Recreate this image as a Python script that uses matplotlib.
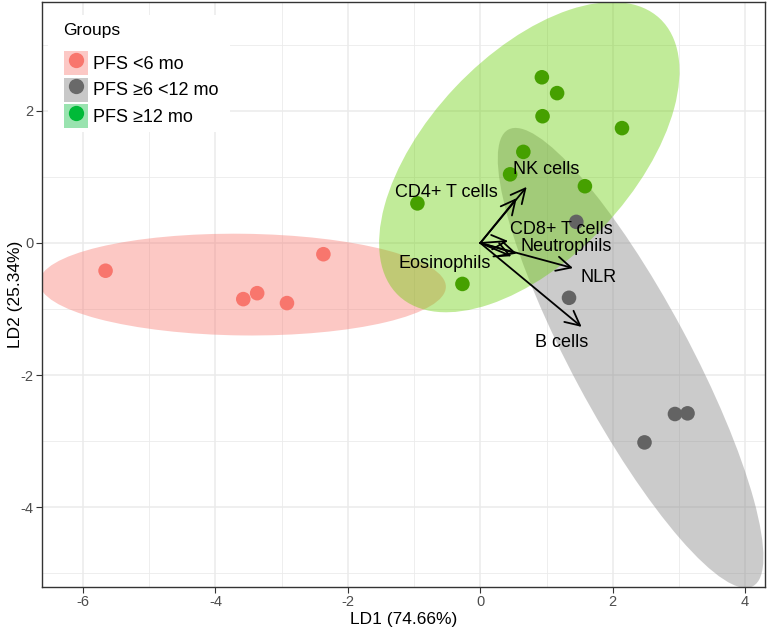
import matplotlib
matplotlib.use("Agg")
import matplotlib.pyplot as plt
from matplotlib.patches import Ellipse, Patch, Rectangle
from matplotlib.lines import Line2D
from matplotlib.legend_handler import HandlerTuple

plt.rcParams["font.family"] = ["Liberation Sans", "DejaVu Sans"]
plt.rcParams["axes.unicode_minus"] = False

# LDA scores per group (LD1, LD2)
groups = ["PFS <6 mo", "PFS \u22656 <12 mo", "PFS \u226512 mo"]
ld1_short = [-5.66, -3.58, -3.37, -2.92, -2.37]
ld2_short = [-0.42, -0.85, -0.76, -0.91, -0.17]
ld1_mid = [1.45, 1.34, 2.94, 3.13, 2.48]
ld2_mid = [0.32, -0.83, -2.59, -2.58, -3.02]
ld1_long = [0.93, 1.16, 0.94, 2.14, 0.65, 0.45, 1.58, -0.95, -0.27]
ld2_long = [2.51, 2.27, 1.92, 1.74, 1.38, 1.04, 0.86, 0.60, -0.62]

# confidence ellipses: centre x, centre y, semi-major, semi-minor, angle (deg)
ell_cx = [-3.59, 2.27, 0.74]
ell_cy = [-0.63, -1.74, 1.30]
ell_a = [3.07, 3.92, 2.88]
ell_b = [0.77, 0.89, 1.54]
ell_angle = [-0.65, -61.9, 46.8]

# loading vectors and where their labels sit
var_names = ["NK cells", "CD4+ T cells", "CD8+ T cells", "Neutrophils",
             "Eosinophils", "NLR", "B cells"]
var_ld1 = [0.70, 0.55, 0.42, 0.55, 0.47, 1.40, 1.53]
var_ld2 = [0.85, 0.68, 0.03, -0.16, -0.20, -0.38, -1.27]
lab_ld1 = [1.00, -0.51, 1.22, 1.30, -0.54, 1.79, 1.23]
lab_ld2 = [1.12, 0.76, 0.21, -0.05, -0.31, -0.52, -1.50]

point_colors = ["#F8766D", "#636363", "#46A000"]
fill_colors = ["#F8766D", "#7F7F7F", "#66CD00"]
key_fills = ["#FCC8C5", "#C8C8C8", "#99E3AF"]
key_points = ["#F8766D", "#696969", "#00BA38"]

W, H = 767, 629
fig = plt.figure(figsize=(W / 100, H / 100), dpi=100)
ax = fig.add_axes([42 / W, 42 / H, 723 / W, 585 / H])

# grid like theme_bw
for v in [-6, -5, -4, -3, -2, -1, 0, 1, 2, 3, 4]:
    ax.axvline(v, color="#EBEBEB", lw=1.1 if v % 2 == 0 else 0.6, zorder=0)
for v in [-5, -4, -3, -2, -1, 0, 1, 2, 3]:
    ax.axhline(v, color="#EBEBEB", lw=1.1 if v % 2 == 0 else 0.6, zorder=0)

xs = [ld1_short, ld1_mid, ld1_long]
ys = [ld2_short, ld2_mid, ld2_long]
for i in range(3):
    e = Ellipse((ell_cx[i], ell_cy[i]), 2 * ell_a[i], 2 * ell_b[i],
                angle=ell_angle[i], facecolor=fill_colors[i], alpha=0.4,
                edgecolor="none", zorder=1)
    ax.add_patch(e)
for i in range(3):
    ax.scatter(xs[i], ys[i], s=110, color=point_colors[i], edgecolor="none", zorder=2)

for name, x, y, lx, ly in zip(var_names, var_ld1, var_ld2, lab_ld1, lab_ld2):
    ax.annotate("", xy=(x, y), xytext=(0, 0),
                arrowprops=dict(arrowstyle="->", lw=1.3, color="black",
                                mutation_scale=26, shrinkA=0, shrinkB=0),
                zorder=3)
    ax.text(lx, ly, name, fontsize=13, ha="center", va="center", zorder=4)

ax.set_xlim(-6.62, 4.30)
ax.set_ylim(-5.21, 3.65)
ax.set_xticks([-6, -4, -2, 0, 2, 4])
ax.set_yticks([-4, -2, 0, 2])
ax.tick_params(colors="#333333", labelcolor="#4D4D4D", labelsize=10.5,
               length=4, pad=2)
for s in ax.spines.values():
    s.set_color("#333333")
    s.set_linewidth(1.0)
ax.set_xlabel("LD1 (74.66%)", fontsize=12.5, labelpad=2)
ax.set_ylabel("LD2 (25.34%)", fontsize=12.5, labelpad=-2)

# legend: white box, title and keys (square fill + dot)
fig.patches.append(Rectangle((48 / W, 1 - 132 / H), 182 / W, 117 / H,
                             transform=fig.transFigure, facecolor="white",
                             edgecolor="none", zorder=5))
fig.text(63 / W, 1 - 31 / H, "Groups", fontsize=12.5, ha="left", va="center", zorder=6)
handles = []
for i in range(3):
    sq = Patch(facecolor=key_fills[i], edgecolor="none")
    dot = Line2D([], [], marker="o", linestyle="none", markersize=11,
                 markerfacecolor=key_points[i], markeredgecolor="none")
    handles.append((sq, dot))
leg = fig.legend(handles, groups, loc="upper left",
                 bbox_to_anchor=(64 / W, 1 - 51 / H), fontsize=13,
                 handler_map={tuple: HandlerTuple(ndivide=1, pad=0)},
                 handlelength=1.33, handleheight=1.67, labelspacing=0.14,
                 handletextpad=0.3, borderpad=0, borderaxespad=0, frameon=False)
leg.set_zorder(6)

fig.savefig("out.png", dpi=100)
